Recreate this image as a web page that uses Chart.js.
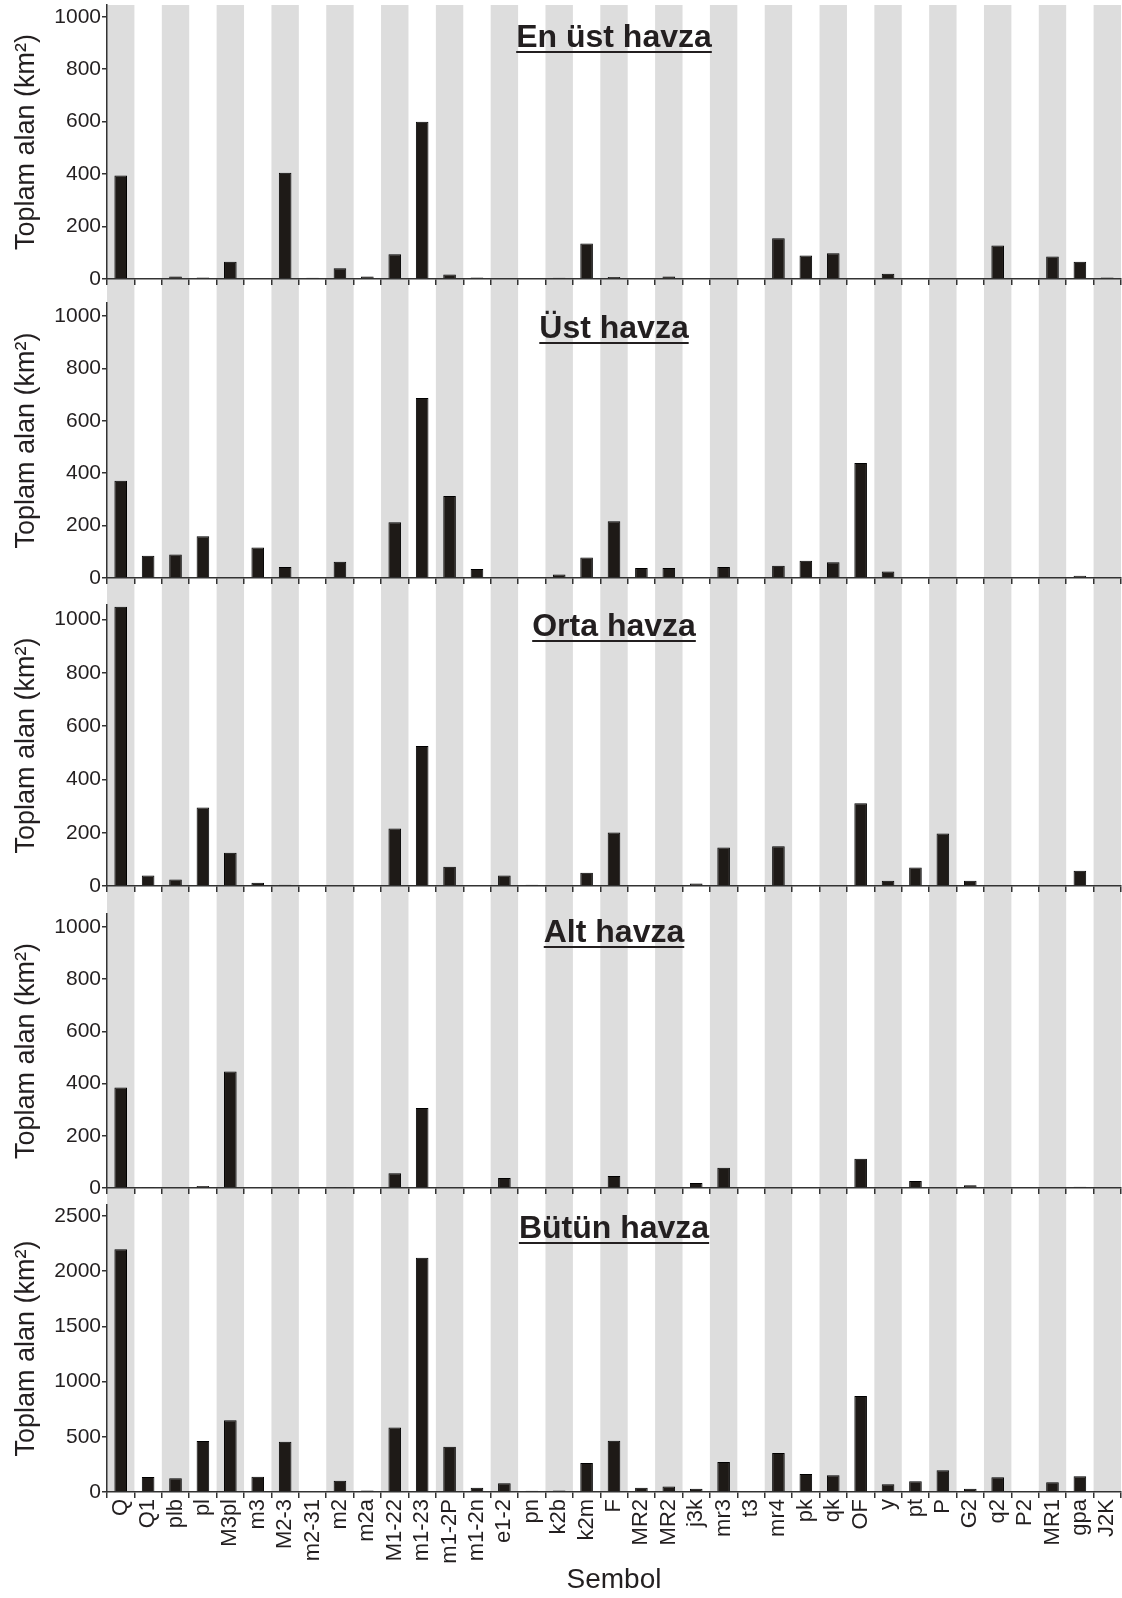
<!DOCTYPE html>
<html lang="tr">
<head>
<meta charset="utf-8">
<title>Toplam alan / Sembol</title>
<script src="https://cdn.jsdelivr.net/npm/chart.js@4.4.1/dist/chart.umd.min.js"></script>
<style>
  html, body { margin: 0; padding: 0; background: #fff; }
  #figure { position: relative; width: 1122px; height: 1598px; overflow: hidden; }
  #figure canvas { position: absolute; left: 0; }
  .panel-title {
    position: absolute; left: 107px; width: 1014px; text-align: center;
    font: bold 32px/32px Arial, "Liberation Sans", sans-serif; color: #231f20;
    text-decoration: underline; text-decoration-thickness: 2px; text-underline-offset: 4px;
    pointer-events: none;
  }
</style>
</head>
<body>
<div id="figure"></div>
<script>
// categories (rock unit symbols) and areas in km2 per basin section
const symbols = ['Q', 'Q1', 'plb', 'pl', 'M3pl', 'm3', 'M2-3', 'm2-31', 'm2', 'm2a', 'M1-22', 'm1-23',
  'm1-2P', 'm1-2n', 'e1-2', 'pn', 'k2b', 'k2m', 'F', 'MR2', 'MR2', 'j3k', 'mr3', 't3', 'mr4', 'pk', 'qk',
  'OF', 'y', 'pt', 'P', 'G2', 'q2', 'P2', 'MR1', 'gpa', 'J2K'];

const enUstHavza = [395, 0, 10, 6, 66, 0, 405, 5, 41, 10, 94, 600, 17, 6, 0, 0, 5, 135, 8, 0, 10, 0, 0, 0,
  155, 90, 98, 0, 20, 0, 0, 0, 128, 0, 86, 66, 6];
const ustHavza = [371, 85, 90, 159, 0, 116, 42, 0, 62, 0, 213, 687, 313, 34, 0, 0, 13, 78, 217, 38, 38, 0,
  42, 0, 47, 66, 60, 439, 25, 0, 0, 0, 0, 0, 0, 9, 0];
const ortaHavza = [1048, 39, 24, 295, 125, 12, 5, 0, 0, 0, 216, 526, 72, 0, 39, 5, 0, 50, 201, 0, 0, 9,
  145, 0, 149, 0, 0, 311, 20, 69, 197, 20, 0, 0, 0, 57, 0];
const altHavza = [385, 4, 0, 8, 446, 0, 0, 0, 4, 0, 57, 307, 0, 0, 38, 0, 0, 0, 46, 0, 0, 19, 78, 0, 0, 0,
  0, 112, 0, 27, 0, 11, 0, 0, 0, 5, 0];
const butunHavza = [2200, 135, 125, 462, 650, 138, 455, 0, 102, 13, 585, 2122, 410, 38, 80, 11, 13, 262,
  465, 39, 50, 30, 272, 0, 353, 163, 152, 870, 70, 97, 197, 30, 133, 0, 88, 142, 0];

const basinTicks = [0, 200, 400, 600, 800, 1000];
const totalTicks = [0, 500, 1000, 1500, 2000, 2500];

const INK = '#231f20';
const LINE = '#333333';
const STRIPE = '#dddddd';
Chart.defaults.font.family = 'Arial, "Liberation Sans", sans-serif';

// canvas top / height on the page, plot top inside the canvas, room left under the plot for the x axis
const panels = [
  { title: 'En üst havza', data: enUstHavza, ticks: basinTicks, max: 1045, top: 0, h: 291, plotTop: 5, axisH: 12, titleTop: 20 },
  { title: 'Üst havza', data: ustHavza, ticks: basinTicks, max: 1050, top: 291, h: 300, plotTop: 12, axisH: 13, titleTop: 311 },
  { title: 'Orta havza', data: ortaHavza, ticks: basinTicks, max: 1055, top: 591, h: 309, plotTop: 14, axisH: 14, titleTop: 609 },
  { title: 'Alt havza', data: altHavza, ticks: basinTicks, max: 1050, top: 900, h: 296, plotTop: 14, axisH: 8, titleTop: 915 },
  { title: 'Bütün havza', data: butunHavza, ticks: totalTicks, max: 2600, top: 1196, h: 402, plotTop: 9, axisH: 106, titleTop: 1211, last: true },
];

// grey band behind every other category, running on through the gaps between panels
const stripes = {
  id: 'stripes',
  beforeDraw(chart, _args, o) {
    const { ctx, chartArea: a, scales: { x } } = chart;
    const w = (a.right - a.left) / symbols.length;
    const y0 = o.fromPlotTop ? a.top : 0;
    const y1 = o.toPlotBottom ? a.bottom : chart.height;
    ctx.save();
    ctx.fillStyle = STRIPE;
    symbols.forEach((_, i) => {
      if (i % 2) return;
      ctx.fillRect(x.getPixelForValue(i) - w / 2, y0, w, y1 - y0);
    });
    ctx.restore();
  },
};

const fig = document.getElementById('figure');

panels.forEach((p, idx) => {
  const canvas = document.createElement('canvas');
  canvas.width = 1122;
  canvas.height = p.h;
  canvas.style.top = p.top + 'px';
  fig.appendChild(canvas);

  const t = document.createElement('div');
  t.className = 'panel-title';
  t.style.top = p.titleTop + 'px';
  t.textContent = p.title;
  fig.appendChild(t);

  new Chart(canvas, {
    type: 'bar',
    data: {
      labels: symbols,
      datasets: [{
        data: p.data, backgroundColor: '#1e1a17', borderColor: '#000', borderWidth: 1,
        barPercentage: 0.46, categoryPercentage: 1,
      }],
    },
    options: {
      responsive: false, animation: false, events: [],
      layout: { padding: { top: p.plotTop, left: 0, right: 1, bottom: 0 } },
      plugins: {
        legend: { display: false }, tooltip: { enabled: false },
        stripes: { fromPlotTop: idx === 0, toPlotBottom: !!p.last },
      },
      scales: {
        x: {
          grid: { offset: true, drawOnChartArea: false, drawTicks: true, tickLength: 6, color: LINE, lineWidth: 1.5 },
          border: { display: true, color: LINE, width: 1.5 },
          ticks: { display: !!p.last, autoSkip: false, maxRotation: 90, minRotation: 90, padding: 1, color: INK, font: { size: 22 } },
          title: { display: !!p.last, text: 'Sembol', color: INK, font: { size: 28 }, padding: { top: 0, bottom: 1 } },
          afterFit: (s) => { s.height = p.axisH; s.paddingLeft = 0; s.paddingRight = 0; },
        },
        y: {
          min: 0, max: p.max,
          afterBuildTicks: (s) => { s.ticks = p.ticks.map((v) => ({ value: v })); },
          grid: { drawOnChartArea: false, tickLength: 5, color: LINE, lineWidth: 1.5 },
          border: { display: true, color: LINE, width: 1.5 },
          ticks: { padding: 1, color: INK, font: { size: 21 }, callback: (v) => String(v) },
          title: { display: true, text: 'Toplam alan (km²)', color: INK, font: { size: 27 }, padding: { top: 10, bottom: 0 } },
          afterFit: (s) => { s.width = 107; s.paddingTop = 0; s.paddingBottom = 0; },
        },
      },
    },
    plugins: [stripes],
  });
});
</script>
</body>
</html>
